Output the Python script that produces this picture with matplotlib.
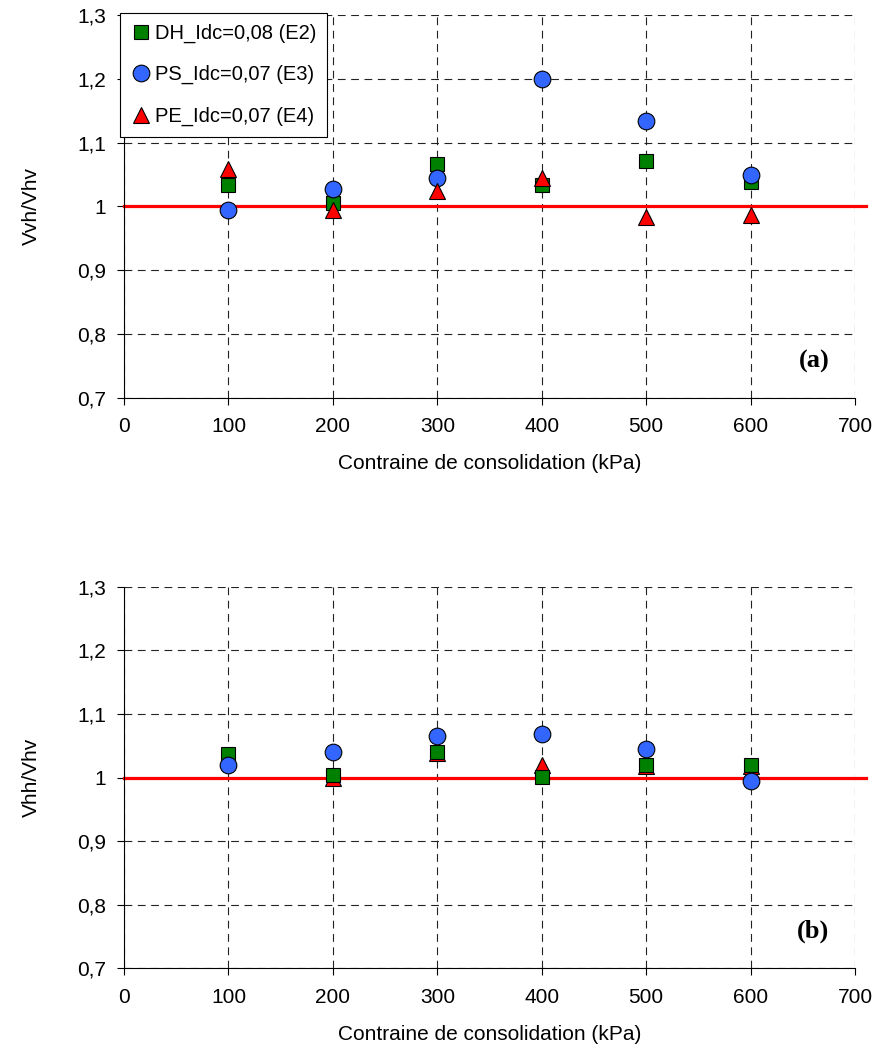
import matplotlib.pyplot as plt
from matplotlib.ticker import FuncFormatter

plt.rcParams['font.family'] = ['Liberation Sans', 'DejaVu Sans']

# consolidation stress (kPa)
stress = [100, 200, 300, 400, 500, 600]

# panel (a): Vvh/Vhv
dh_a = [1.033, 1.006, 1.066, 1.033, 1.071, 1.038]
ps_a = [0.994, 1.027, 1.044, 1.199, 1.134, 1.050]
pe_a = [1.058, 0.995, 1.024, 1.045, 0.984, 0.987]

# panel (b): Vhh/Vhv
dh_b = [1.037, 1.004, 1.040, 1.001, 1.020, 1.020]
ps_b = [1.020, 1.040, 1.065, 1.068, 1.045, 0.995]
pe_b = [1.030, 0.999, 1.038, 1.019, 1.018, 1.018]

labels = ['DH_Idc=0,08 (E2)', 'PS_Idc=0,07 (E3)', 'PE_Idc=0,07 (E4)']
green = '#008000'
blue = '#3366FF'
red = '#FF0000'


def comma_fmt(v, pos):
    s = '%g' % round(v, 2)
    return s.replace('.', ',')


def style_axes(ax, ylabel):
    ax.set_xlim(0, 700)
    ax.set_ylim(0.7, 1.3)
    ax.set_xticks(range(0, 701, 100))
    ax.set_yticks([0.7, 0.8, 0.9, 1.0, 1.1, 1.2, 1.3])
    ax.yaxis.set_major_formatter(FuncFormatter(comma_fmt))
    ax.grid(True, color='#222222', linestyle=(0, (7, 5)), linewidth=0.8)
    ax.spines['top'].set_visible(False)
    ax.spines['right'].set_visible(False)
    ax.tick_params(labelsize=15, direction='out', length=5)
    ax.tick_params(axis='x', pad=9)
    ax.tick_params(axis='y', pad=8)
    ax.set_xlabel('Contraine de consolidation (kPa)', fontsize=15, labelpad=13)
    ax.set_ylabel(ylabel, fontsize=15, labelpad=26)
    # reference line at 1, drawn a bit past the right edge
    ax.plot([0, 710], [1, 1], color=red, linewidth=2.3, clip_on=False, zorder=2)


fig = plt.figure(figsize=(8.77, 10.5), dpi=100)
ax1 = fig.add_axes([0.1414, 0.621, 0.8336, 0.3647])
ax2 = fig.add_axes([0.1414, 0.078, 0.8336, 0.363])

# top panel: DH under PS under PE
style_axes(ax1, 'Vvh/Vhv')
ax1.plot(stress, dh_a, 's', color=green, mec='black', mew=0.8, ms=9.5, label=labels[0], zorder=3)
ax1.plot(stress, ps_a, 'o', color=blue, mec='black', mew=0.8, ms=12, label=labels[1], zorder=4)
ax1.plot(stress, pe_a, '^', color=red, mec='black', mew=0.8, ms=11, label=labels[2], zorder=5)
leg = ax1.legend(loc='upper left', bbox_to_anchor=(-0.006, 1.006), fontsize=14.5,
                 frameon=True, fancybox=False, edgecolor='black', framealpha=1,
                 handletextpad=0.2, handlelength=1.0, labelspacing=1.1, borderpad=0.55,
                 borderaxespad=0)
leg.get_frame().set_linewidth(0.8)
leg.set_zorder(10)
ax1.text(0.965, 0.065, '(a)', transform=ax1.transAxes, ha='right', va='bottom',
         fontsize=19, fontweight='bold', family='Liberation Serif')

# bottom panel: PE under DH under PS
style_axes(ax2, 'Vhh/Vhv')
ax2.plot(stress, pe_b, '^', color=red, mec='black', mew=0.8, ms=11, zorder=3)
ax2.plot(stress, dh_b, 's', color=green, mec='black', mew=0.8, ms=9.5, zorder=4)
ax2.plot(stress, ps_b, 'o', color=blue, mec='black', mew=0.8, ms=12, zorder=5)
ax2.text(0.965, 0.065, '(b)', transform=ax2.transAxes, ha='right', va='bottom',
         fontsize=19, fontweight='bold', family='Liberation Serif')

fig.savefig('out.png', dpi=100)
